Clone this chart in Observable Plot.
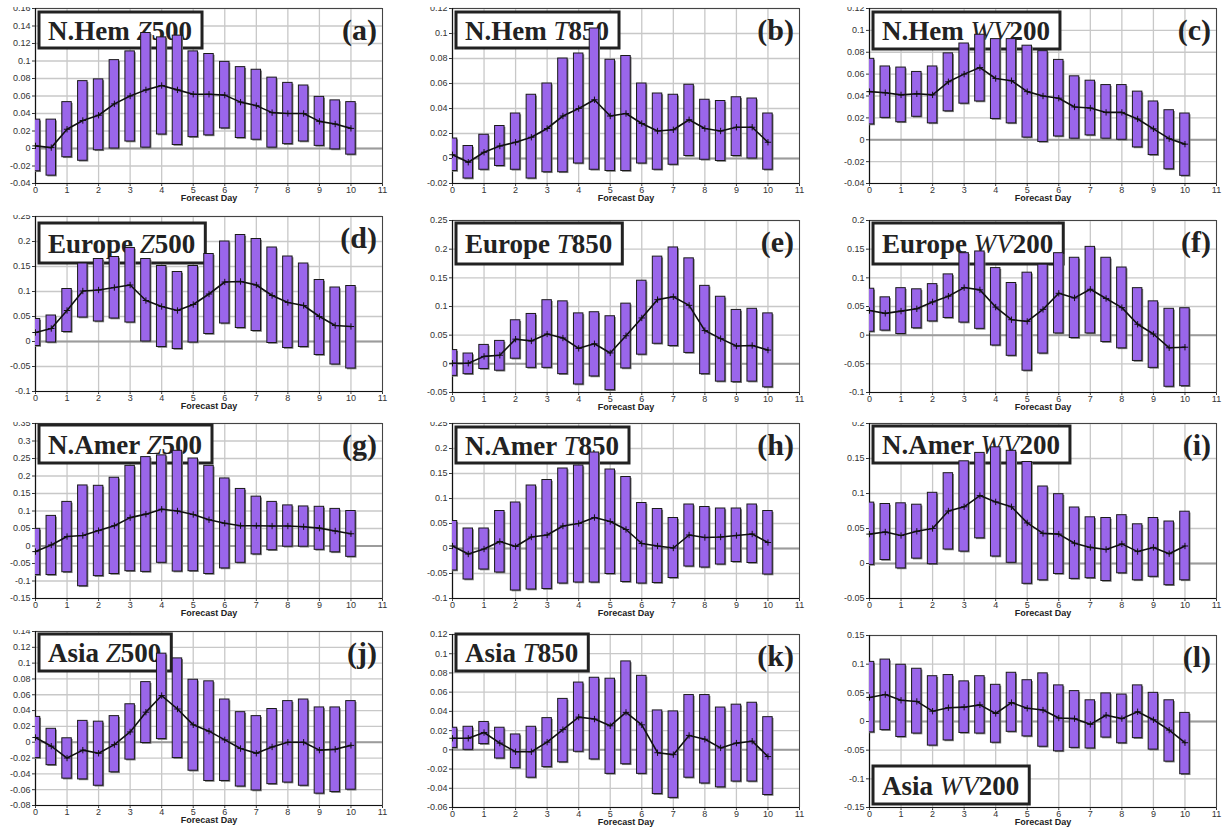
<!DOCTYPE html>
<html><head><meta charset="utf-8">
<script src="https://cdn.jsdelivr.net/npm/d3@7"></script>
<script src="https://cdn.jsdelivr.net/npm/@observablehq/plot@0.6"></script>
<style>
body{margin:0;background:#fff;}
#fig{position:relative;width:1224px;height:830px;overflow:hidden;background:#fff;}
#fig svg{position:absolute;overflow:hidden;}
</style></head><body><div id="fig"></div>
<script>
// ---------------- DATA ----------------
const days = [0,0.5,1,1.5,2,2.5,3,3.5,4,4.5,5,5.5,6,6.5,7,7.5,8,8.5,9,9.5,10];
const xTicks = [0,1,2,3,4,5,6,7,8,9,10,11];
const xLabel = "Forecast Day";

const panelIds = ["a","b","c","d","e","f","g","h","i","j","k","l"];
const regions  = ["N.Hem","N.Hem","N.Hem","Europe","Europe","Europe","N.Amer","N.Amer","N.Amer","Asia","Asia","Asia"];
const varNames = ["Z","T","WV","Z","T","WV","Z","T","WV","Z","T","WV"];
const levels   = ["500","850","200","500","850","200","500","850","200","500","850","200"];
const yMins  = [-0.04,-0.02,-0.04,-0.1,-0.05,-0.1,-0.15,-0.1,-0.05,-0.08,-0.06,-0.15];
const yMaxs  = [0.16,0.12,0.12,0.25,0.25,0.2,0.35,0.25,0.2,0.14,0.12,0.15];
const ySteps = [0.02,0.02,0.02,0.05,0.05,0.05,0.05,0.05,0.05,0.02,0.02,0.05];

// (a) N.Hem Z500
const nhemZ500Hi   = [0.033,0.033,0.053,0.077,0.079,0.101,0.111,0.132,0.127,0.129,0.111,0.108,0.099,0.093,0.090,0.081,0.075,0.072,0.059,0.055,0.053];
const nhemZ500Lo   = [-0.026,-0.031,-0.010,-0.014,-0.002,0.000,0.008,0.001,0.016,0.004,0.013,0.015,0.023,0.012,0.010,0.001,0.005,0.008,0.003,-0.001,-0.007];
const nhemZ500Mean = [0.003,0.001,0.022,0.032,0.038,0.051,0.060,0.067,0.072,0.067,0.062,0.062,0.061,0.053,0.049,0.041,0.040,0.040,0.031,0.028,0.023];
// (b) N.Hem T850
const nhemT850Hi   = [0.016,0.010,0.019,0.026,0.036,0.051,0.060,0.080,0.084,0.104,0.079,0.082,0.060,0.052,0.051,0.059,0.047,0.046,0.049,0.048,0.036];
const nhemT850Lo   = [-0.010,-0.016,-0.009,-0.006,-0.009,-0.016,-0.011,-0.011,-0.004,-0.009,-0.010,-0.010,-0.004,-0.009,-0.005,0.002,-0.001,-0.002,0.002,0.000,-0.009];
const nhemT850Mean = [0.003,-0.003,0.005,0.010,0.013,0.017,0.024,0.034,0.040,0.047,0.034,0.036,0.028,0.022,0.023,0.031,0.024,0.022,0.025,0.025,0.013];
// (c) N.Hem WV200
const nhemWV200Hi   = [0.074,0.067,0.066,0.062,0.067,0.079,0.088,0.096,0.092,0.092,0.086,0.081,0.073,0.058,0.054,0.050,0.050,0.044,0.035,0.027,0.024];
const nhemWV200Lo   = [0.014,0.020,0.016,0.021,0.015,0.026,0.033,0.035,0.019,0.015,0.002,-0.002,0.003,0.001,0.004,0.001,0.000,-0.007,-0.014,-0.027,-0.033];
const nhemWV200Mean = [0.044,0.043,0.041,0.042,0.041,0.053,0.060,0.066,0.056,0.054,0.044,0.040,0.038,0.030,0.029,0.025,0.025,0.019,0.010,0.001,-0.004];
// (d) Europe Z500
const eurZ500Hi   = [0.045,0.052,0.105,0.156,0.165,0.169,0.187,0.165,0.151,0.139,0.151,0.175,0.200,0.213,0.205,0.188,0.170,0.156,0.123,0.108,0.111];
const eurZ500Lo   = [-0.009,-0.002,0.019,0.048,0.040,0.046,0.038,0.000,-0.011,-0.015,-0.002,0.015,0.036,0.027,0.021,-0.003,-0.013,-0.011,-0.027,-0.046,-0.054];
const eurZ500Mean = [0.018,0.026,0.062,0.101,0.103,0.108,0.113,0.082,0.070,0.062,0.074,0.095,0.119,0.120,0.113,0.092,0.078,0.072,0.050,0.032,0.030];
// (e) Europe T850
const eurT850Hi   = [0.024,0.018,0.033,0.040,0.076,0.087,0.111,0.109,0.088,0.090,0.083,0.105,0.145,0.187,0.203,0.184,0.136,0.117,0.094,0.096,0.088];
const eurT850Lo   = [-0.021,-0.018,-0.009,-0.012,0.009,-0.007,-0.007,-0.018,-0.036,-0.022,-0.046,-0.008,0.016,0.035,0.031,0.019,-0.018,-0.031,-0.032,-0.031,-0.041];
const eurT850Mean = [0.001,0.001,0.013,0.015,0.043,0.040,0.052,0.045,0.027,0.035,0.019,0.049,0.080,0.112,0.117,0.102,0.058,0.044,0.031,0.032,0.024];
// (f) Europe WV200
const eurWV200Hi   = [0.081,0.066,0.082,0.080,0.089,0.106,0.143,0.146,0.117,0.091,0.109,0.123,0.143,0.135,0.154,0.135,0.118,0.082,0.059,0.046,0.047];
const eurWV200Lo   = [0.006,0.008,0.002,0.012,0.024,0.030,0.022,0.011,-0.018,-0.036,-0.062,-0.032,0.003,-0.005,0.003,-0.012,-0.023,-0.045,-0.057,-0.090,-0.089];
const eurWV200Mean = [0.043,0.038,0.042,0.046,0.058,0.068,0.083,0.079,0.049,0.027,0.024,0.045,0.073,0.065,0.080,0.064,0.048,0.019,0.002,-0.022,-0.021];
// (g) N.Amer Z500
const namZ500Hi   = [0.049,0.086,0.126,0.173,0.172,0.195,0.229,0.254,0.259,0.272,0.250,0.229,0.193,0.163,0.141,0.126,0.116,0.113,0.112,0.106,0.100];
const namZ500Lo   = [-0.083,-0.083,-0.075,-0.115,-0.086,-0.080,-0.072,-0.074,-0.048,-0.073,-0.072,-0.080,-0.064,-0.048,-0.024,-0.012,-0.002,-0.002,-0.011,-0.018,-0.031];
const namZ500Mean = [-0.016,0.003,0.027,0.030,0.044,0.058,0.081,0.091,0.105,0.100,0.090,0.075,0.065,0.058,0.058,0.057,0.057,0.055,0.051,0.043,0.035];
// (h) N.Amer T850
const namT850Hi   = [0.055,0.040,0.040,0.075,0.092,0.126,0.137,0.160,0.166,0.192,0.158,0.143,0.091,0.079,0.061,0.088,0.083,0.080,0.080,0.088,0.075];
const namT850Lo   = [-0.044,-0.062,-0.042,-0.048,-0.084,-0.082,-0.081,-0.070,-0.068,-0.068,-0.051,-0.067,-0.070,-0.069,-0.059,-0.036,-0.038,-0.032,-0.027,-0.029,-0.052];
const namT850Mean = [0.005,-0.011,-0.001,0.014,0.004,0.023,0.027,0.045,0.050,0.062,0.054,0.038,0.010,0.005,0.001,0.027,0.022,0.023,0.026,0.029,0.012];
// (i) N.Amer WV200
const namWV200Hi   = [0.087,0.085,0.086,0.084,0.101,0.129,0.146,0.158,0.166,0.161,0.145,0.110,0.099,0.080,0.066,0.065,0.069,0.056,0.065,0.060,0.074];
const namWV200Lo   = [-0.002,0.005,-0.007,0.007,-0.001,0.020,0.017,0.036,0.010,0.001,-0.029,-0.024,-0.015,-0.022,-0.021,-0.025,-0.014,-0.024,-0.019,-0.031,-0.024];
const namWV200Mean = [0.042,0.045,0.040,0.046,0.050,0.075,0.081,0.097,0.088,0.081,0.058,0.043,0.042,0.029,0.023,0.020,0.028,0.017,0.023,0.014,0.025];
// (j) Asia Z500
const asiaZ500Hi   = [0.032,0.017,0.005,0.027,0.026,0.033,0.048,0.076,0.112,0.106,0.079,0.077,0.054,0.038,0.033,0.042,0.052,0.054,0.044,0.044,0.052];
const asiaZ500Lo   = [-0.020,-0.029,-0.046,-0.047,-0.055,-0.038,-0.022,-0.001,0.004,-0.020,-0.036,-0.049,-0.049,-0.056,-0.061,-0.053,-0.051,-0.055,-0.065,-0.063,-0.060];
const asiaZ500Mean = [0.006,-0.005,-0.020,-0.010,-0.014,-0.003,0.013,0.038,0.059,0.042,0.022,0.014,0.003,-0.008,-0.014,-0.006,0.000,0.000,-0.010,-0.009,-0.004];
// (k) Asia T850
const asiaT850Hi   = [0.023,0.024,0.029,0.023,0.016,0.024,0.033,0.053,0.070,0.075,0.074,0.092,0.077,0.041,0.040,0.057,0.057,0.044,0.047,0.049,0.034];
const asiaT850Lo   = [0.002,0.000,0.006,-0.009,-0.019,-0.029,-0.018,-0.013,-0.002,-0.010,-0.025,-0.015,-0.025,-0.046,-0.050,-0.029,-0.035,-0.039,-0.033,-0.033,-0.047];
const asiaT850Mean = [0.012,0.012,0.018,0.007,-0.002,-0.002,0.008,0.021,0.034,0.032,0.025,0.039,0.026,-0.003,-0.005,0.015,0.011,0.002,0.007,0.009,-0.007];
// (l) Asia WV200
const asiaWV200Hi   = [0.104,0.108,0.099,0.092,0.079,0.081,0.070,0.079,0.064,0.085,0.072,0.084,0.063,0.053,0.037,0.049,0.047,0.063,0.050,0.037,0.015];
const asiaWV200Lo   = [-0.019,-0.015,-0.027,-0.021,-0.042,-0.033,-0.020,-0.021,-0.037,-0.018,-0.026,-0.044,-0.052,-0.046,-0.047,-0.028,-0.038,-0.029,-0.049,-0.070,-0.092];
const asiaWV200Mean = [0.042,0.047,0.037,0.035,0.018,0.024,0.025,0.029,0.014,0.033,0.023,0.020,0.006,0.005,-0.005,0.011,0.005,0.017,0.003,-0.015,-0.037];

const his   = [nhemZ500Hi,nhemT850Hi,nhemWV200Hi,eurZ500Hi,eurT850Hi,eurWV200Hi,namZ500Hi,namT850Hi,namWV200Hi,asiaZ500Hi,asiaT850Hi,asiaWV200Hi];
const los   = [nhemZ500Lo,nhemT850Lo,nhemWV200Lo,eurZ500Lo,eurT850Lo,eurWV200Lo,namZ500Lo,namT850Lo,namWV200Lo,asiaZ500Lo,asiaT850Lo,asiaWV200Lo];
const means = [nhemZ500Mean,nhemT850Mean,nhemWV200Mean,eurZ500Mean,eurT850Mean,eurWV200Mean,namZ500Mean,namT850Mean,namWV200Mean,asiaZ500Mean,asiaT850Mean,asiaWV200Mean];

// ---------------- LAYOUT / STYLE ----------------
const colLefts = [35, 452, 869];
const plotW = 347;
const halfW = 0.15;
const shadowFill = "#7a7a7a";
const layout = [
  {col:0, top:8,   bottom:183, cut:true,  boxTop:12,  boxH:36},
  {col:1, top:8,   bottom:183, cut:true,  boxTop:12,  boxH:36},
  {col:2, top:8,   bottom:183, cut:true,  boxTop:12,  boxH:37},
  {col:0, top:216, bottom:391, cut:true,  boxTop:223, boxH:40},
  {col:1, top:220, bottom:392, cut:false, boxTop:223, boxH:41},
  {col:2, top:220, bottom:392, cut:false, boxTop:223, boxH:41},
  {col:0, top:423, bottom:598, cut:true,  boxTop:425, boxH:38},
  {col:1, top:423, bottom:598, cut:true,  boxTop:427, boxH:36},
  {col:2, top:423, bottom:598, cut:true,  boxTop:426, boxH:37},
  {col:0, top:631, bottom:805, cut:true,  boxTop:634, boxH:37},
  {col:1, top:634, bottom:807, cut:false, boxTop:634, boxH:37},
  {col:2, top:635, bottom:807, cut:false, boxTop:766, boxH:38}
];
const serif = "'Liberation Serif','Times New Roman',Times,serif";
const ns = "http://www.w3.org/2000/svg";
const fig = document.getElementById("fig");

panelIds.forEach((id, i) => {
  const L = layout[i];
  const mL = 35, mR = 8, mB = 23;
  const mT = L.cut ? 1 : 10;
  const plotH = L.bottom - L.top;
  const W = mL + plotW + mR, H = mT + plotH + mB;
  const svgLeft = colLefts[L.col] - mL, svgTop = L.top - mT;
  const rows = days.map((d, k) => ({day: d, lo: los[i][k], hi: his[i][k], mean: means[i][k]}));
  const n = Math.round((yMaxs[i] - yMins[i]) / ySteps[i]);
  const yTicks = d3.range(n + 1).map(k => +(yMins[i] + k * ySteps[i]).toFixed(3));

  const chart = Plot.plot({
    width: W, height: H, marginLeft: mL, marginRight: mR, marginTop: mT, marginBottom: mB,
    style: {fontFamily: "'Liberation Sans',Arial,Helvetica,sans-serif", fontSize: "9px", color: "#333", background: "transparent"},
    x: {domain: [0, 11], ticks: xTicks, tickSize: 3, tickPadding: 0, tickFormat: d => String(d), label: null},
    y: {domain: [yMins[i], yMaxs[i]], ticks: yTicks, tickSize: 3, tickPadding: 2, tickFormat: v => String(v), label: null},
    marks: [
      Plot.gridX(xTicks, {stroke: "#c8c8c8", strokeOpacity: 1, strokeWidth: 1.3}),
      Plot.gridY(yTicks, {stroke: "#c8c8c8", strokeOpacity: 1, strokeWidth: 1.3}),
      Plot.ruleY([0], {stroke: "#9c9c9c", strokeWidth: 2}),
      Plot.frame({stroke: "#444", strokeWidth: 1}),
      Plot.ruleX([0], {stroke: "#111", strokeWidth: 1.2}),
      Plot.ruleY([yMins[i]], {stroke: "#111", strokeWidth: 1.2}),
      Plot.rect(rows, {x1: d => d.day - halfW, x2: d => d.day + halfW, y1: "lo", y2: "hi", fill: shadowFill, dx: 1.3, dy: 1.3, clip: true}),
      Plot.rect(rows, {x1: d => d.day - halfW, x2: d => d.day + halfW, y1: "lo", y2: "hi", fill: "#9a66ea", stroke: "#1a1a1a", strokeWidth: 1, clip: true}),
      Plot.line(rows, {x: "day", y: "mean", stroke: "#111", strokeWidth: 1.6}),
      Plot.dot(rows, {x: "day", y: "mean", symbol: "plus", r: 2.2, stroke: "#111", strokeWidth: 1}),
      Plot.text([xLabel], {frameAnchor: "bottom", dy: 17.5, text: d => d, fontWeight: "bold", fontSize: 9, fill: "#222"})
    ]
  });
  chart.style.position = "absolute";
  chart.style.left = svgLeft + "px";
  chart.style.top = svgTop + "px";
  fig.appendChild(chart);

  // find the top-level group of the shadow bars, so the title box goes beneath the bars
  let ref = null;
  const sr = chart.querySelector('[fill="' + shadowFill + '"]');
  if (sr) { ref = sr; while (ref && ref.parentNode !== chart) ref = ref.parentNode; }
  const g = document.createElementNS(ns, "g");
  chart.insertBefore(g, ref);
  const bx = colLefts[L.col] + 4 - svgLeft;
  const by = L.boxTop - svgTop;
  const rect = document.createElementNS(ns, "rect");
  g.appendChild(rect);
  const t = document.createElementNS(ns, "text");
  t.setAttribute("x", bx + 9);
  t.setAttribute("y", by + L.boxH / 2 + 9.5);
  t.setAttribute("text-anchor", "start");
  t.setAttribute("font-family", serif);
  t.setAttribute("font-size", 27);
  t.setAttribute("font-weight", "bold");
  t.setAttribute("fill", "#222");
  const parts = [[regions[i] + " ", "normal", "bold"], [varNames[i], "italic", "normal"], [levels[i], "normal", "bold"]];
  parts.forEach(([s, st, wt]) => {
    const ts = document.createElementNS(ns, "tspan");
    ts.setAttribute("font-style", st);
    ts.setAttribute("font-weight", wt);
    ts.textContent = s;
    t.appendChild(ts);
  });
  g.appendChild(t);
  const tw = t.getComputedTextLength();
  rect.setAttribute("x", bx);
  rect.setAttribute("y", by);
  rect.setAttribute("width", tw + 19);
  rect.setAttribute("height", L.boxH);
  rect.setAttribute("fill", "#fff");
  rect.setAttribute("stroke", "#222");
  rect.setAttribute("stroke-width", 3);

  // panel letter
  const lab = document.createElementNS(ns, "text");
  lab.setAttribute("x", mL + plotW - 5);
  lab.setAttribute("y", mT + 32);
  lab.setAttribute("text-anchor", "end");
  lab.setAttribute("font-family", serif);
  lab.setAttribute("font-size", 30);
  lab.setAttribute("font-weight", "bold");
  lab.setAttribute("fill", "#222");
  lab.textContent = "(" + id + ")";
  chart.appendChild(lab);
});
</script></body></html>
